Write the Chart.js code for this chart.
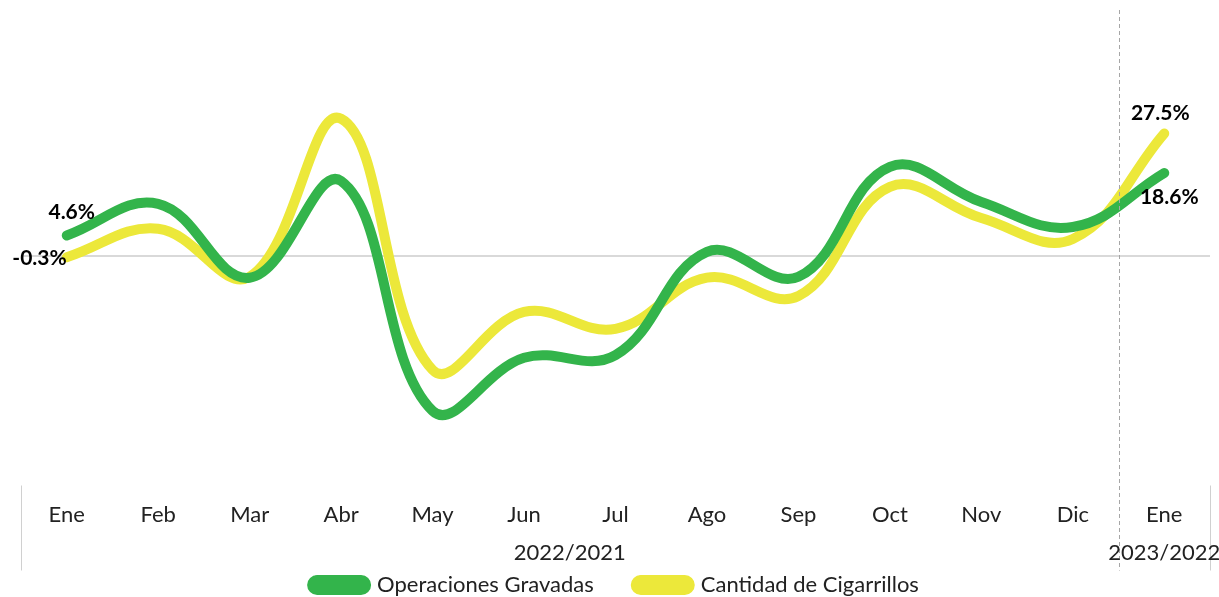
<!DOCTYPE html>
<html><head><meta charset="utf-8">
<script src="https://cdn.jsdelivr.net/npm/chart.js@4/dist/chart.umd.min.js"></script>
<style>html,body{margin:0;padding:0;background:#fff;} #wrap{width:1219px;height:597px;position:relative;}</style>
</head><body><div id="wrap"><canvas id="c"></canvas></div>
<script>
const months = ['Ene','Feb','Mar','Abr','May','Jun','Jul','Ago','Sep','Oct','Nov','Dic','Ene'];
const periodLabels = ['2022/2021','2023/2022'];
const periodFirst = [0, 12];
const periodLast = [11, 12];
const operacionesGravadas = [4.6, 11.7, -4.9, 16.8, -34.8, -22.9, -22.3, 0.9, -4.7, 20.0, 12.1, 6.5, 18.6];
const cantidadCigarrillos = [-0.3, 6.1, -4.7, 30.8, -25.6, -12.6, -16.4, -4.9, -9.0, 15.5, 8.5, 3.8, 27.5];
const seriesNames = ['Operaciones Gravadas', 'Cantidad de Cigarrillos'];

const GREEN = '#33B44B';
const YELLOW = '#ECE83A';
const FONT = 'Lato, "Open Sans", sans-serif';

const fmt = v => v.toFixed(1) + '%';

const extras = {
  id: 'extras',
  afterDraw(chart) {
    const ctx = chart.ctx;
    const xs = chart.scales.x;
    const ca = chart.chartArea;
    ctx.save();
    // axis separators
    ctx.strokeStyle = '#D0D0D0';
    ctx.lineWidth = 1;
    [ca.left, ca.right].forEach(x => {
      ctx.beginPath();
      ctx.moveTo(Math.round(x) + 0.5, ca.bottom + 7);
      ctx.lineTo(Math.round(x) + 0.5, ca.bottom + 92);
      ctx.stroke();
    });
    // dashed divider between periods
    const xd = (xs.getPixelForValue(11) + xs.getPixelForValue(12)) / 2;
    ctx.strokeStyle = '#A6A6A6';
    ctx.setLineDash([4, 3]);
    ctx.beginPath();
    ctx.moveTo(Math.round(xd) + 0.5, ca.top - 1);
    ctx.lineTo(Math.round(xd) + 0.5, ca.bottom + 92);
    ctx.stroke();
    ctx.setLineDash([]);
    // period labels
    ctx.fillStyle = '#222';
    ctx.font = '22px ' + FONT;
    ctx.textAlign = 'center';
    ctx.textBaseline = 'middle';
    periodLabels.forEach((lab, i) => {
      const x = (xs.getPixelForValue(periodFirst[i]) + xs.getPixelForValue(periodLast[i])) / 2;
      ctx.fillText(lab, x, ca.bottom + 74);
    });
    // data labels (first and last points)
    ctx.font = 'bold 21px ' + FONT;
    ctx.fillStyle = '#000';
    const g = chart.getDatasetMeta(0).data;
    const y = chart.getDatasetMeta(1).data;
    const last = months.length - 1;
    ctx.textAlign = 'center';
    ctx.fillText(fmt(operacionesGravadas[0]), g[0].x + 5, g[0].y - 23);
    ctx.textAlign = 'right';
    ctx.fillText(fmt(cantidadCigarrillos[0]), y[0].x, y[0].y + 1);
    ctx.textAlign = 'center';
    ctx.fillText(fmt(cantidadCigarrillos[last]), y[last].x - 4, y[last].y - 20);
    ctx.fillText(fmt(operacionesGravadas[last]), g[last].x + 5, g[last].y + 24);
    ctx.restore();
  }
};

new Chart(document.getElementById('c'), {
  type: 'line',
  data: {
    labels: months,
    datasets: [
      { label: seriesNames[0], data: operacionesGravadas, borderColor: GREEN, backgroundColor: GREEN },
      { label: seriesNames[1], data: cantidadCigarrillos, borderColor: YELLOW, backgroundColor: YELLOW }
    ]
  },
  options: {
    responsive: true,
    maintainAspectRatio: false,
    animation: false,
    layout: { padding: { left: 21, right: 9, top: 11, bottom: -9 } },
    elements: {
      line: { borderWidth: 10, tension: 0.4, borderCapStyle: 'round', borderJoinStyle: 'round' },
      point: { radius: 0, hoverRadius: 0 }
    },
    scales: {
      x: {
        offset: true,
        grid: { display: false, drawTicks: false },
        border: { display: false },
        ticks: { color: '#222', font: { family: FONT, size: 22 }, padding: 23, maxRotation: 0, autoSkip: false },
        afterFit: s => { s.height = 53.5; }
      },
      y: {
        display: true,
        min: -50, max: 55,
        ticks: { display: false, stepSize: 5 },
        border: { display: false },
        grid: { drawTicks: false, lineWidth: 2, color: c => c.tick && c.tick.value === 0 ? '#D9D9D9' : 'rgba(0,0,0,0)' },
        afterFit: s => { s.width = 0; }
      }
    },
    plugins: {
      legend: {
        position: 'bottom',
        labels: {
          color: '#222', font: { family: FONT, size: 22 },
          boxWidth: 54, boxHeight: 10, useBorderRadius: true, borderRadius: 5, padding: 42
        }
      },
      tooltip: { enabled: false }
    }
  },
  plugins: [extras]
});
</script>
</body></html>
